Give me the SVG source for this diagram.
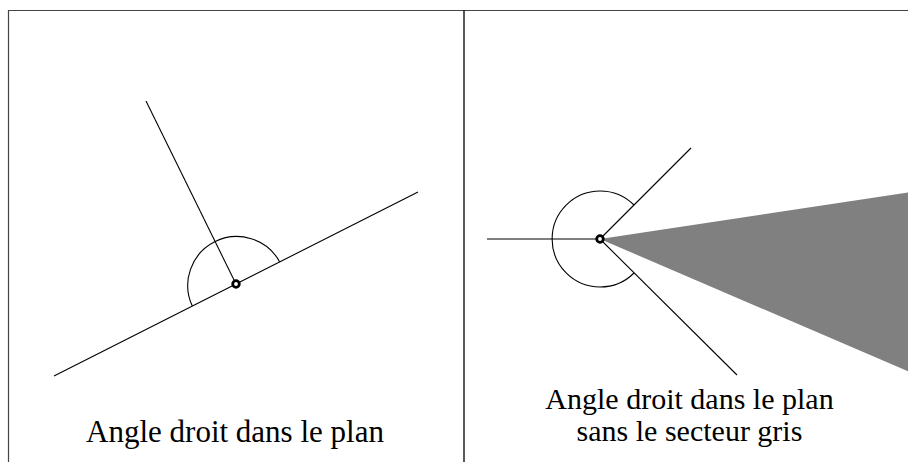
<svg xmlns="http://www.w3.org/2000/svg" width="908" height="462" viewBox="0 0 908 462">
<style>
.frame{stroke:#444;stroke-width:1.2;fill:none}
.ln{stroke:#000;stroke-width:1.1;fill:none}
.pt{stroke:#000;stroke-width:2.8;fill:#fff}
.lbl{font-family:"Liberation Serif","DejaVu Serif",serif;font-size:31px;fill:#000;text-anchor:middle}
</style>
<rect width="908" height="462" fill="#fff"/>
<g id="frame">
<line class="frame" x1="8" y1="10.5" x2="908" y2="10.5"/>
<line class="frame" x1="8.5" y1="10" x2="8.5" y2="462"/>
<line class="frame" x1="464" y1="10" x2="464" y2="462" style="stroke:#222;stroke-width:1.5"/>
</g>
<g id="left">
<line class="ln" x1="54" y1="376" x2="418" y2="192"/>
<line class="ln" x1="236" y1="284" x2="146" y2="101"/>
<path class="ln" d="M 192.3 306.1 A 49 49 0 0 1 279.7 261.9"/>
<circle class="pt" cx="236" cy="284" r="3.3"/>
<text class="lbl" x="235" y="442">Angle droit dans le plan</text>
</g>
<g id="right">
<polygon points="600,239 912,192 912,373" fill="#808080"/>
<line class="ln" x1="487" y1="239" x2="600" y2="239"/>
<line class="ln" x1="600" y1="239" x2="691" y2="148"/>
<line class="ln" x1="600" y1="239" x2="737" y2="375"/>
<path class="ln" d="M 634 205 A 48 48 0 1 0 634 273"/>
<circle class="pt" cx="600" cy="239" r="3.3"/>
<text class="lbl" x="689.5" y="409" style="font-size:30px">Angle droit dans le plan</text>
<text class="lbl" x="689.5" y="441" style="font-size:30px">sans le secteur gris</text>
</g>
</svg>
